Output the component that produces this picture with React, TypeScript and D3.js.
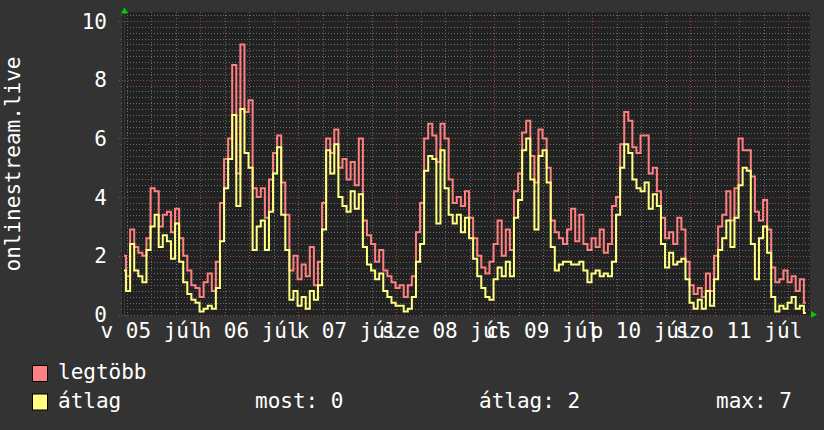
import React from "react";
import * as d3 from "d3";

// ---- data (hourly, starting 2020-07-05 05:22) ----
const legtobb: number[] = [
  2.0, 1.3, 2.9, 2.3, 2.1, 2.0, 2.6, 4.3, 4.2, 3.0, 3.4, 3.5, 2.8, 3.6, 2.6, 2.0, 1.5, 1.0, 0.9,
  0.6, 1.1, 1.4, 0.8, 1.8, 3.8, 5.3, 6.0, 8.5, 4.8, 9.2, 6.9, 7.3, 4.3, 4.0, 4.3, 3.3, 4.6, 5.5, 6.1,
  4.5, 3.4, 1.5, 2.0, 1.2, 1.7, 1.3, 2.3, 1.0, 1.8, 3.8, 6.0, 5.5, 6.3, 5.0, 5.3, 4.6, 5.2, 4.4, 6.0,
  3.2, 2.7, 2.4, 1.8, 2.2, 1.5, 1.3, 1.1, 0.9, 1.0, 0.6, 1.0, 1.3, 2.8, 3.8, 6.0, 6.5, 6.1, 5.2, 6.5,
  6.0, 4.6, 3.8, 4.0, 3.7, 4.2, 3.3, 2.6, 2.0, 1.6, 1.4, 1.8, 2.4, 3.2, 2.0, 2.9, 2.2, 4.2, 4.8, 6.2,
  6.6, 5.4, 4.5, 6.3, 6.0, 5.0, 3.2, 2.8, 2.6, 2.4, 2.9, 3.6, 2.5, 3.4, 2.4, 2.2, 2.6, 2.3, 2.9, 2.1,
  2.4, 3.7, 4.0, 5.8, 6.9, 6.6, 5.7, 5.5, 6.1, 6.1, 4.8, 5.0, 4.2, 3.3, 2.6, 2.8, 2.4, 3.3, 2.9, 1.8,
  1.0, 0.7, 0.9, 0.6, 1.4, 0.8, 2.0, 3.0, 3.4, 4.2, 3.2, 4.3, 6.0, 5.6, 5.6, 4.7, 3.5, 3.2, 3.9, 2.9,
  1.6, 1.1, 1.2, 1.5, 1.1, 1.3, 0.8, 1.2, 0.4,
];
const atlag: number[] = [
  1.5, 0.8, 2.4, 1.5, 1.3, 1.1, 2.2, 3.0, 3.4, 2.3, 2.7, 2.5, 1.9, 3.1, 1.8, 1.1, 0.7, 0.5, 0.4,
  0.1, 0.2, 0.3, 0.2, 0.9, 2.5, 4.3, 5.3, 6.8, 3.7, 7.0, 5.5, 5.0, 2.2, 3.0, 3.2, 2.2, 3.5, 4.8, 5.7,
  3.4, 2.2, 0.5, 0.8, 0.3, 0.6, 0.2, 0.8, 0.5, 1.0, 2.9, 5.6, 4.8, 5.8, 4.0, 3.7, 3.5, 4.2, 3.6, 4.1,
  2.3, 1.7, 1.5, 1.2, 1.4, 0.8, 0.6, 0.4, 0.3, 0.3, 0.1, 0.2, 0.6, 1.8, 2.4, 4.9, 5.4, 5.3, 3.1, 5.6,
  4.3, 3.4, 3.1, 3.4, 2.8, 3.3, 2.6, 1.9, 1.3, 0.9, 0.6, 0.5, 1.2, 1.6, 1.3, 1.8, 1.3, 3.3, 3.9, 5.6,
  6.0, 4.6, 2.9, 5.4, 5.6, 4.5, 2.3, 1.5, 1.7, 1.8, 1.8, 1.7, 1.7, 1.8, 1.5, 1.1, 1.4, 1.5, 1.3, 1.4,
  1.3, 1.8, 3.4, 5.0, 5.8, 5.5, 4.6, 4.3, 4.2, 4.5, 3.6, 4.1, 3.7, 2.4, 1.6, 2.1, 1.7, 1.8, 1.9, 1.2,
  0.4, 0.2, 0.5, 0.2, 0.8, 0.3, 1.2, 2.2, 2.6, 3.2, 2.3, 3.3, 4.4, 5.0, 4.9, 2.4, 1.2, 2.6, 3.0, 2.1,
  0.6, 0.1, 0.3, 0.2, 0.4, 0.6, 0.2, 0.3, 0.05,
];
const dayLabels: string[] = ["v 05 júl", "h 06 júl", "k 07 júl", "sze 08 júl", "cs 09 júl", "p 10 júl", "szo 11 júl"];
const yTicks: number[] = [0, 2, 4, 6, 8, 10];
const seriesNames: string[] = ["legtöbb", "átlag"];
const legendStats: string[] = ["most: 0", "átlag: 2", "max: 7"];
const title = "onlinestream.live";

const FONT = "'DejaVu Sans Mono', monospace";
const START = new Date(2020, 6, 5, 5, 22);
const END = new Date(START.getTime() + 168 * 3600 * 1000);

export default function App() {
  const x = d3.scaleTime().domain([START, END]).range([124, 810]);
  const y = d3.scaleLinear().domain([0, 10.3]).range([314.5, 12.2]);
  const t = (i: number) => new Date(START.getTime() + i * 3600 * 1000);

  const line = d3
    .line<number>()
    .x((_, i) => x(t(i)))
    .y((d) => y(d))
    .curve(d3.curveStep);

  const minorY = d3.range(0, 10.3, 0.2).filter((v) => Math.abs(v / 2 - Math.round(v / 2)) > 0.01);
  const minorX = d3.timeHour.every(6)!.range(START, END).filter((d) => d.getHours() !== 0);
  const majorX = d3.timeDay.range(START, END);
  const noons = majorX.map((d) => new Date(d.getTime() - 12 * 3600 * 1000));

  const colors = ["#ff8080", "#ffff80"];

  return (
    <svg width={824} height={430} style={{ position: "absolute", left: 0, top: 0, display: "block" }}>
      <rect x={0} y={0} width={824} height={430} fill="#333333" />
      <rect x={122} y={12} width={688} height={304} fill="#222222" />
      {minorY.map((v, i) => (
        <line key={"my" + i} x1={121} x2={810} y1={Math.round(y(v)) + 0.5} y2={Math.round(y(v)) + 0.5}
          stroke="#6a6a6a" strokeWidth={1} strokeDasharray="1,2" />
      ))}
      {minorX.map((d, i) => (
        <line key={"mx" + i} x1={Math.round(x(d)) + 0.5} x2={Math.round(x(d)) + 0.5} y1={12} y2={317}
          stroke="#6a6a6a" strokeWidth={1} strokeDasharray="1,2" />
      ))}
      {yTicks.map((v, i) => (
        <line key={"My" + i} x1={119} x2={810} y1={Math.round(y(v)) + 0.5} y2={Math.round(y(v)) + 0.5}
          stroke="#9a4545" strokeWidth={1} strokeDasharray="1,2" />
      ))}
      {majorX.map((d, i) => (
        <line key={"Mx" + i} x1={Math.round(x(d)) + 0.5} x2={Math.round(x(d)) + 0.5} y1={12} y2={319}
          stroke="#9a4545" strokeWidth={1} strokeDasharray="1,2" />
      ))}
      <line x1={124.5} x2={124.5} y1={12} y2={316} stroke="#3a3a3a" strokeWidth={1} />
      <path d={line(legtobb) || ""} fill="none" stroke={colors[0]} strokeWidth={2} />
      <path d={line(atlag) || ""} fill="none" stroke={colors[1]} strokeWidth={2} />
      {/* arrows */}
      <path d="M121,13.5 L128,13.5 L124.5,7.5 Z" fill="#00cc00" />
      <path d="M811,311 L811,318 L817,314.5 Z" fill="#00cc00" />
      {/* y tick labels */}
      {yTicks.map((v, i) => (
        <text key={"yl" + i} x={107} y={y(v) + 7.5} fill="#ffffff" fontSize={21} fontFamily={FONT} textAnchor="end">
          {v}
        </text>
      ))}
      {/* x labels */}
      {noons.map((d, i) => (
        <text key={"xl" + i} x={x(d)} y={338} fill="#ffffff" fontSize={21} fontFamily={FONT} textAnchor="middle">
          {dayLabels[i]}
        </text>
      ))}
      {/* title */}
      <text transform="translate(20,164) rotate(-90)" fill="#ffffff" fontSize={21} fontFamily={FONT} textAnchor="middle">
        {title}
      </text>
      {/* legend */}
      {seriesNames.map((n, i) => (
        <g key={"lg" + i}>
          <rect x={32.5} y={365.5 + i * 28.5} width={15} height={16} fill={colors[i]} stroke="#000" strokeWidth={1} />
          <text x={58} y={379 + i * 28.5} fill="#ffffff" fontSize={21} fontFamily={FONT}>
            {n}
          </text>
        </g>
      ))}
      {legendStats.map((s, i) => (
        <text key={"ls" + i} x={[255, 479, 716][i]} y={407.5} fill="#ffffff" fontSize={21} fontFamily={FONT}>
          {s}
        </text>
      ))}
    </svg>
  );
}
